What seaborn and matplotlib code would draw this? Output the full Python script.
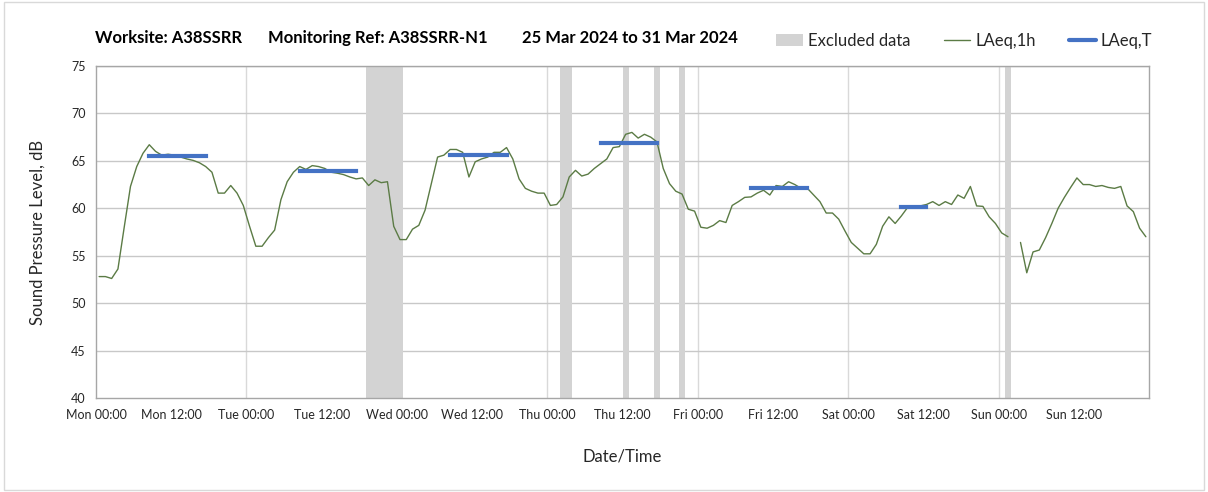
import numpy as np
import pandas as pd
import matplotlib
matplotlib.use("Agg")
import matplotlib.pyplot as plt
from matplotlib.patches import Patch, Rectangle
from matplotlib.lines import Line2D
import seaborn as sns


# hourly LAeq,1h values, Mon 00:00 onwards (one per hour)
laeq_1h = [
    52.8, 52.8, 52.6, 53.6, 58.0, 62.3, 64.4, 65.8, 66.7, 66.0,
    65.6, 65.7, 65.6, 65.4, 65.2, 65.05, 64.8, 64.4, 63.8, 61.6,
    61.6, 62.4, 61.6, 60.3, 58.1, 56.0, 56.0, 56.9, 57.7, 60.9,
    62.8, 63.8, 64.4, 64.1, 64.5, 64.4, 64.2, 63.8, 63.7, 63.55,
    63.3, 63.1, 63.2, 62.4, 63.0, 62.7, 62.8, 58.1, 56.7, 56.7,
    57.8, 58.2, 59.8, 62.6, 65.4, 65.6, 66.2, 66.2, 65.9, 63.3,
    64.9, 65.2, 65.4, 65.9, 65.9, 66.4, 65.2, 63.1, 62.1, 61.8,
    61.6, 61.6, 60.3, 60.4, 61.2, 63.3, 64.0, 63.4, 63.6, 64.2,
    64.7, 65.2, 66.4, 66.5, 67.8, 68.0, 67.4, 67.8, 67.5, 67.0,
    64.2, 62.6, 61.8, 61.5, 59.9, 59.7, 58.0, 57.9, 58.2, 58.7,
    58.5, 60.3, 60.7, 61.15, 61.2, 61.6, 61.9, 61.4, 62.4, 62.3,
    62.8, 62.5, 62.1, 62.1, 61.4, 60.7, 59.5, 59.5, 58.85, 57.6,
    56.4, 55.8, 55.2, 55.2, 56.2, 58.1, 59.1, 58.4, 59.2, 60.1,
    60.2, 60.25, 60.4, 60.7, 60.3, 60.7, 60.4, 61.4, 61.05, 62.3,
    60.25, 60.2, 59.1, 58.4, 57.4, 57.0, np.nan, 56.4, 53.2, 55.4,
    55.6, 56.9, 58.4, 60.0, 61.15, 62.2, 63.2, 62.5, 62.5, 62.3,
    62.4, 62.2, 62.1, 62.3, 60.25, 59.65, 57.9, 57.0,
]

# LAeq,T daytime periods (hours from Mon 00:00)
period_start = [8, 32, 56, 80, 104, 128]
period_end = [18, 42, 66, 90, 114, 133]
period_level = [65.5, 63.9, 65.6, 66.9, 62.1, 60.1]

# excluded data windows (hours from Mon 00:00)
excl_start = [43, 74, 84, 89, 93, 145]
excl_end = [49, 76, 85, 90, 94, 146]

days = ["Mon", "Tue", "Wed", "Thu", "Fri", "Sat", "Sun"]
tick_labels = [d + t for d in days for t in [" 00:00", " 12:00"]]

title_parts = ["Worksite: A38SSRR", "Monitoring Ref: A38SSRR-N1", "25 Mar 2024 to 31 Mar 2024"]


# ===============================
# DATA FRAME
# ===============================

df = pd.DataFrame({"hour": np.arange(len(laeq_1h)) + 0.5, "laeq": laeq_1h})
df["segment"] = df["laeq"].isna().cumsum()
df = df.dropna()


# ===============================
# PLOT
# ===============================

sns.set_style("white")
plt.rcParams["font.family"] = ["Lato", "DejaVu Sans"]

green = "#5b7b45"
blue = "#4472c4"
grey_band = "#d3d3d3"
axis_grey = "#a6a6a6"
text_col = "#262626"

fig = plt.figure(figsize=(12.08, 4.92), dpi=100)
ax = fig.add_axes([96 / 1208, 1 - 398 / 492, (1149 - 96) / 1208, (398 - 66) / 492])

for s, e in zip(excl_start, excl_end):
    ax.axvspan(s, e, color=grey_band, lw=0, zorder=1)

sns.lineplot(data=df, x="hour", y="laeq", units="segment", estimator=None,
             color=green, lw=1.0, ax=ax, zorder=3)

for s, e, lvl in zip(period_start, period_end, period_level):
    ax.hlines(lvl, s + 0.5, e - 0.5, color=blue, lw=3, zorder=4,
              capstyle="projecting")

ax.set_xlim(0, 168)
ax.set_ylim(40, 75)
ax.set_yticks(np.arange(40, 76, 5))
ax.set_xticks(np.arange(0, 168, 12))
ax.set_xticklabels(tick_labels)

for h in range(24, 168, 24):
    ax.axvline(h, color="#d9d9d9", lw=1, zorder=0)
for y in range(45, 76, 5):
    ax.axhline(y, color="#c8c8c8", lw=1, zorder=0)

for sp in ax.spines.values():
    sp.set_color(axis_grey)
    sp.set_linewidth(1)

ax.tick_params(axis="both", direction="out", length=4, width=1, color=axis_grey,
               labelsize=9, labelcolor=text_col)
ax.tick_params(axis="x", pad=4)

ax.set_xlabel("Date/Time", fontsize=12, color=text_col, labelpad=20)
ax.set_ylabel("Sound Pressure Level, dB", fontsize=12, color=text_col, labelpad=18)

title_x = [95, 268, 522]
for t, x in zip(title_parts, title_x):
    fig.text(x / 1208, 1 - 38 / 492, t, fontsize=12, fontweight="bold",
             color="black", va="center", ha="left")

handles = [
    Patch(facecolor=grey_band, edgecolor="none"),
    Line2D([0], [0], color=green, lw=1.0),
    Line2D([0], [0], color=blue, lw=3),
]
fig.legend(handles, ["Excluded data", "LAeq,1h", "LAeq,T"], ncol=3, frameon=False,
           loc="center left", bbox_to_anchor=(761 / 1208, 1 - 41 / 492),
           fontsize=12, handlelength=1.6, handletextpad=0.3, columnspacing=2.0,
           labelcolor=text_col)

fig.patches.append(Rectangle((0.003, 0.004), 0.994, 0.992, transform=fig.transFigure,
                             fill=False, edgecolor="#d9d9d9", lw=1))

fig.savefig("out.png", dpi=100)
